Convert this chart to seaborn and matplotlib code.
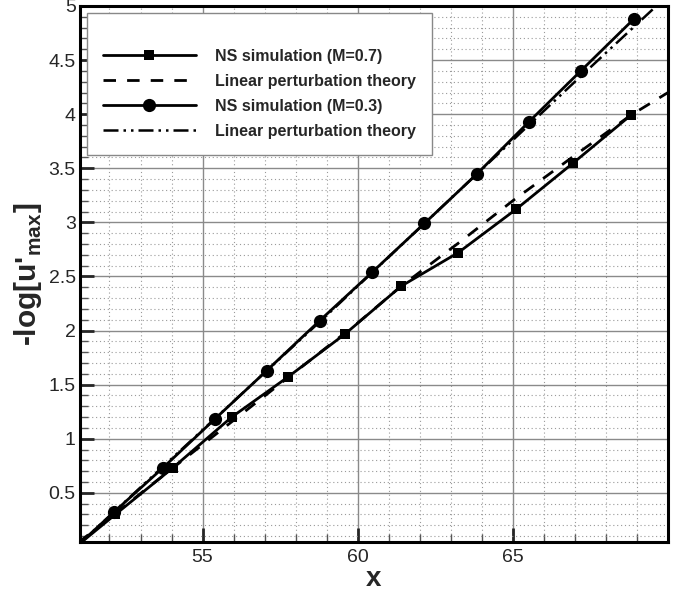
import numpy as np
import pandas as pd
import matplotlib
matplotlib.use("Agg")
import matplotlib.pyplot as plt
import seaborn as sns
from matplotlib.ticker import MultipleLocator

# ---- data ----
ns07_x = [51.0, 52.19, 54.04, 55.94, 57.75, 59.6, 61.4, 63.24, 65.1, 66.95, 68.8]
ns07_y = [0.02, 0.30, 0.73, 1.20, 1.57, 1.97, 2.41, 2.72, 3.12, 3.55, 3.99]

lin07_x = [51.0, 54.0, 56.0, 58.0, 60.0, 61.4, 63.3, 65.0, 67.0, 68.8, 70.0]
lin07_y = [0.04, 0.72, 1.17, 1.62, 2.07, 2.41, 2.82, 3.20, 3.62, 3.99, 4.20]

ns03_x = [51.0, 52.14, 53.72, 55.39, 57.07, 58.77, 60.47, 62.15, 63.85, 65.52, 67.19, 68.9]
ns03_y = [0.02, 0.32, 0.73, 1.18, 1.63, 2.09, 2.54, 2.99, 3.45, 3.93, 4.40, 4.88]

lin03_x = [51.0, 53.0, 55.0, 57.0, 59.0, 61.0, 63.0, 65.0, 67.0, 68.5, 70.0]
lin03_y = [0.02, 0.55, 1.08, 1.61, 2.14, 2.68, 3.22, 3.76, 4.30, 4.70, 5.10]

labels = ["NS simulation (M=0.7)", "Linear perturbation theory",
          "NS simulation (M=0.3)", "Linear perturbation theory"]
x_ticks = [55, 60, 65]
y_ticks = [0.5, 1, 1.5, 2, 2.5, 3, 3.5, 4, 4.5, 5]

# ---- style ----
sns.set_theme(style="white")
plt.rcParams["font.family"] = ["Liberation Sans", "DejaVu Sans"]
plt.rcParams["mathtext.fontset"] = "custom"
plt.rcParams["mathtext.rm"] = "Liberation Sans"
plt.rcParams["mathtext.bf"] = "Liberation Sans:bold"

fig = plt.figure(figsize=(6.84, 5.96), dpi=100)
ax = fig.add_axes([80 / 684, 1 - 542 / 596, (668 - 80) / 684, (542 - 6) / 596])

df07 = pd.DataFrame({"x": ns07_x, "y": ns07_y})
dl07 = pd.DataFrame({"x": lin07_x, "y": lin07_y})
df03 = pd.DataFrame({"x": ns03_x, "y": ns03_y})
dl03 = pd.DataFrame({"x": lin03_x, "y": lin03_y})

sns.lineplot(data=df07, x="x", y="y", ax=ax, color="black", lw=2.0,
             marker="s", markersize=6.5, markeredgewidth=0,
             markevery=slice(1, None), label=labels[0], zorder=5)
sns.lineplot(data=dl07, x="x", y="y", ax=ax, color="black", lw=2.0,
             linestyle=(0, (4.5, 4.0)), label=labels[1], zorder=4)
sns.lineplot(data=df03, x="x", y="y", ax=ax, color="black", lw=2.0,
             marker="o", markersize=9.5, markeredgewidth=0,
             markevery=slice(1, None), label=labels[2], zorder=5)
sns.lineplot(data=dl03, x="x", y="y", ax=ax, color="black", lw=1.8,
             linestyle=(0, (6, 2, 1, 2, 1, 2)), label=labels[3], zorder=4)

ax.set_xlim(51.05, 70.0)
ax.set_ylim(0.045, 5.0)
ax.set_xticks(x_ticks)
ax.set_yticks(y_ticks)
ax.set_yticklabels([f"{v:g}" for v in y_ticks])
ax.xaxis.set_minor_locator(MultipleLocator(1))
ax.yaxis.set_minor_locator(MultipleLocator(0.1))

ax.grid(which="major", color="#8a8a8a", lw=1.0, ls="-")
ax.grid(which="minor", color="#9a9a9a", lw=0.8, ls=(0, (1, 2.5)))
ax.set_axisbelow(True)

for s in ax.spines.values():
    s.set_linewidth(2.2)
    s.set_color("black")

ax.tick_params(which="major", direction="in", length=10, width=2,
               labelsize=14, pad=5, bottom=True, left=True, top=False, right=False)
ax.tick_params(axis="y", which="major", pad=3)
ax.tick_params(which="minor", direction="in", length=6, width=1,
               bottom=True, left=True, top=False, right=False, color="#555555")

ax.set_xlabel("x", fontsize=20, fontweight="bold", labelpad=0)
ax.set_ylabel("-log[u'$_{\\mathbf{max}}$]", fontsize=21.5, fontweight="bold", labelpad=3)

leg = ax.legend(loc="upper left", bbox_to_anchor=(7 / 588, 1 - 7 / 536),
                frameon=True, fancybox=False, framealpha=1,
                prop={"family": "Liberation Sans", "weight": "bold", "size": 11.5},
                title=" ", title_fontsize=7,
                handlelength=5.8, handletextpad=1.2, labelspacing=0.62,
                borderpad=1.0, borderaxespad=0)
leg.get_frame().set_edgecolor("#888888")
leg.get_frame().set_linewidth(1.0)

fig.savefig("out.png", dpi=100)
